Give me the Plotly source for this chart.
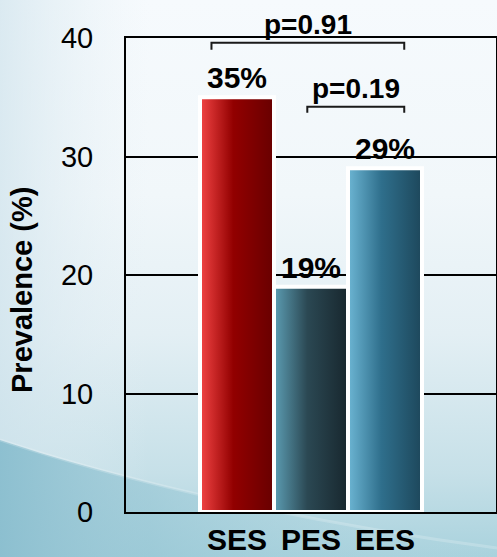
import base64
import plotly.graph_objects as go

# Data
categories = ["SES", "PES", "EES"]
prevalence = [35, 19, 29]
value_labels = ["35%", "19%", "29%"]
y_ticks = [0, 10, 20, 30, 40]
comparison_pairs = [("SES", "EES"), ("PES", "EES")]
p_labels = ["p=0.91", "p=0.19"]

# Styling
FONT = "Arial, 'Liberation Sans', Helvetica, sans-serif"
W, H = 497, 557
bar_gradients = [
    [[0, "#f24444"], [0.45, "#920000"], [1, "#680000"]],
    [[0, "#5c9db3"], [0.45, "#2b4853"], [1, "#18272e"]],
    [[0, "#6cb5d3"], [0.45, "#2f6f8c"], [1, "#1d475b"]],
]
# bracket geometry: (left offset, right offset, level, drop) in axis units
bracket_geom = [(-0.345, 0.26, 39.6, 0.6), (-0.05, 0.26, 34.2, 0.5)]

# Soft slide-style backdrop
bg_svg = f'''<svg xmlns="http://www.w3.org/2000/svg" width="{W}" height="{H}" viewBox="0 0 {W} {H}" preserveAspectRatio="none">
<defs>
<linearGradient id="sky" x1="0" y1="0" x2="0" y2="1">
<stop offset="0" stop-color="#f6fafd"/>
<stop offset="0.35" stop-color="#f1f7fa"/>
<stop offset="0.6" stop-color="#e3eff4"/>
<stop offset="0.85" stop-color="#c6e0e8"/>
<stop offset="1" stop-color="#a9d2dd"/>
</linearGradient>
<linearGradient id="side" x1="0" y1="0" x2="1" y2="0">
<stop offset="0" stop-color="#cfe3ec" stop-opacity="0.7"/>
<stop offset="0.3" stop-color="#e6f0f5" stop-opacity="0"/>
</linearGradient>
<linearGradient id="wave" x1="0" y1="0" x2="1" y2="0">
<stop offset="0" stop-color="#86bccd" stop-opacity="0.9"/>
<stop offset="0.5" stop-color="#9ecbd8" stop-opacity="0.45"/>
<stop offset="1" stop-color="#b5d9e2" stop-opacity="0"/>
</linearGradient>
</defs>
<rect width="{W}" height="{H}" fill="url(#sky)"/>
<rect width="{W}" height="{H}" fill="url(#side)"/>
<path d="M0,440 C120,480 300,522 497,548 L497,557 L0,557 Z" fill="url(#wave)"/>
<path d="M0,440 C120,480 300,522 497,548" fill="none" stroke="#ffffff" stroke-opacity="0.2" stroke-width="3"/>
</svg>'''
bg_src = "data:image/svg+xml;base64," + base64.b64encode(bg_svg.encode()).decode()

fig = go.Figure()

# Bars drawn as filled rectangles so each can carry a horizontal gradient
for i, (cat, val) in enumerate(zip(categories, prevalence)):
    xc = i + 1
    fig.add_trace(go.Scatter(
        x=[xc - 0.5, xc - 0.5, xc + 0.5, xc + 0.5, xc - 0.5],
        y=[0, val, val, 0, 0],
        mode="lines",
        fill="toself",
        fillgradient=dict(type="horizontal", colorscale=bar_gradients[i]),
        line=dict(color="white", width=4),
        name=cat,
        hoverinfo="skip",
        showlegend=False,
    ))

annotations = []
for i, (val, lab) in enumerate(zip(prevalence, value_labels)):
    annotations.append(dict(
        x=i + 1, y=val, xref="x", yref="y", text=lab, showarrow=False,
        yanchor="bottom", yshift=1,
        font=dict(family=FONT, size=30, color="black", weight="bold"),
    ))

shapes = []
for (a, b), lab, (lo, ro, lvl, drop) in zip(comparison_pairs, p_labels, bracket_geom):
    x0 = categories.index(a) + 1 + lo
    x1 = categories.index(b) + 1 + ro
    shapes.append(dict(
        type="path", xref="x", yref="y",
        path=f"M {x0},{lvl - drop} L {x0},{lvl} L {x1},{lvl} L {x1},{lvl - drop}",
        line=dict(color="#1a1a1a", width=2),
    ))
    annotations.append(dict(
        x=(x0 + x1) / 2, y=lvl, xref="x", yref="y", text=lab, showarrow=False,
        yanchor="bottom", yshift=1,
        font=dict(family=FONT, size=28, color="black", weight="bold"),
    ))

annotations.append(dict(
    x=22 / W, y=1 - 290 / H, xref="paper", yref="paper", text="Prevalence (%)",
    showarrow=False, textangle=-90, xanchor="center", yanchor="middle",
    font=dict(family=FONT, size=29, color="black", weight="bold"),
))

fig.update_layout(
    width=W, height=H,
    margin=dict(l=0, r=0, t=0, b=0),
    paper_bgcolor="white",
    plot_bgcolor="rgba(0,0,0,0)",
    images=[dict(source=bg_src, xref="paper", yref="paper", x=0, y=1,
                 sizex=1, sizey=1, xanchor="left", yanchor="top",
                 sizing="stretch", layer="below")],
    xaxis=dict(
        domain=[126 / W, 496 / W], range=[-0.5, 4.5],
        tickvals=[1, 2, 3], ticktext=categories,
        tickfont=dict(family=FONT, size=30, color="black", weight="bold"),
        showgrid=False, zeroline=False, ticks="",
        showline=True, mirror=True, linecolor="black", linewidth=2,
        layer="below traces", ticklabelstandoff=0, automargin=False,
    ),
    yaxis=dict(
        domain=[(H - 512) / H, (H - 38) / H], range=[0, 40],
        tickvals=y_ticks,
        tickfont=dict(family=FONT, size=29, color="black"),
        showgrid=True, gridcolor="black", gridwidth=1.5, zeroline=False,
        ticks="", showline=True, mirror=True, linecolor="black", linewidth=2,
        ticklabelstandoff=25, automargin=False,
    ),
    shapes=shapes,
    annotations=annotations,
    showlegend=False,
)

fig.write_html("out.html")
